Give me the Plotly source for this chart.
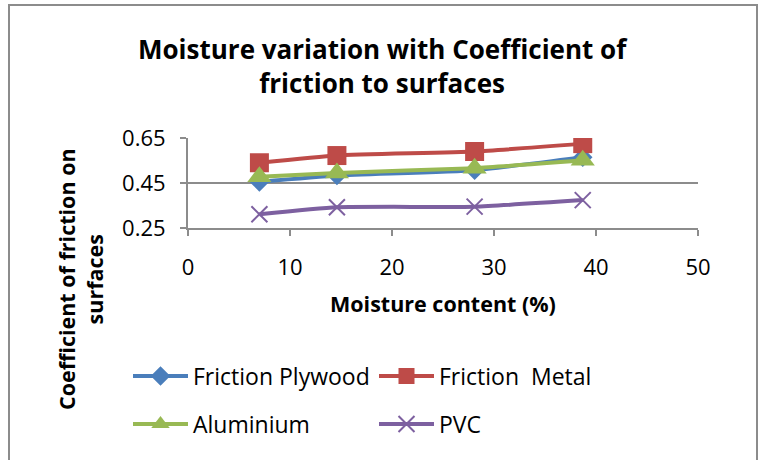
import plotly.graph_objects as go

# Moisture content (%) at which friction was measured
moisture = [7.0, 14.6, 28.1, 38.7]

# Coefficient of friction on each surface
plywood = [0.455, 0.483, 0.507, 0.565]
metal = [0.540, 0.572, 0.590, 0.625]
aluminium = [0.478, 0.495, 0.516, 0.551]
pvc = [0.311, 0.342, 0.345, 0.374]

x_ticks = [0, 10, 20, 30, 40, 50]
y_ticks = [0.25, 0.45, 0.65]

FONT = "Open Sans"

# plot-area geometry in pixels (used to place the frame and labels)
W, H = 767, 460
L, R, T, B = 188, 69, 138, 232
PW, PH = W - L - R, H - T - B


def px_x(px):
    return (px - L) / PW


def px_y(py):
    return (H - B - py) / PH


series = [
    ("Friction Plywood", plywood, "#4A7EBB", dict(symbol="diamond", size=15), "legend"),
    ("Friction  Metal", metal, "#BE4B48", dict(symbol="square", size=19), "legend"),
    ("Aluminium", aluminium, "#98B954", dict(symbol="triangle-up", size=21), "legend2"),
    ("PVC", pvc, "#7D60A0", dict(symbol="x-thin", size=16, line=dict(width=2, color="#7D60A0")), "legend2"),
]

fig = go.Figure()
for name, vals, color, marker, leg in series:
    fig.add_trace(go.Scatter(
        x=moisture, y=vals, name=name, mode="lines+markers",
        line=dict(color=color, width=4, shape="spline", smoothing=0.5),
        marker=dict(color=color, **marker),
        legend=leg,
    ))

legend_common = dict(
    orientation="h", xanchor="left", yanchor="middle",
    xref="container", yref="container",
    font=dict(family=FONT, size=23, color="#000000"),
    entrywidth=176, entrywidthmode="pixels", itemwidth=55,
    bgcolor="rgba(0,0,0,0)", itemsizing="trace",
)

fig.update_layout(
    width=W, height=H,
    margin=dict(l=L, r=R, t=T, b=B),
    paper_bgcolor="white", plot_bgcolor="white",
    font=dict(family=FONT, size=22, color="#000000"),
    showlegend=True,
    legend=dict(x=128 / W, y=1 - 376 / H, **legend_common),
    legend2=dict(x=128 / W, y=1 - 424 / H, **legend_common),
    xaxis=dict(
        range=[0, 50], tickvals=x_ticks, ticktext=[str(v) for v in x_ticks],
        showgrid=False, zeroline=False,
        showline=True, linecolor="#8C8C8C", linewidth=2,
        ticks="outside", ticklen=6, tickwidth=2, tickcolor="#8C8C8C",
        ticklabelstandoff=13,
        tickfont=dict(family=FONT, size=22), fixedrange=True,
    ),
    yaxis=dict(
        range=[0.25, 0.65], tickvals=y_ticks, ticktext=["0.25", "0.45", "0.65"],
        showgrid=True, gridcolor="#8C8C8C", gridwidth=2, zeroline=False,
        showline=True, linecolor="#8C8C8C", linewidth=2,
        ticks="outside", ticklen=6, tickwidth=2, tickcolor="#8C8C8C",
        ticklabelstandoff=10,
        tickfont=dict(family=FONT, size=22), fixedrange=True,
    ),
    shapes=[
        # chart frame
        dict(type="rect", xref="paper", yref="paper",
             x0=px_x(9), x1=px_x(757), y0=px_y(470), y1=px_y(5),
             line=dict(color="#8C8C8C", width=2), layer="below"),
    ],
    annotations=[
        dict(text="<b>Moisture variation with Coefficient of<br>friction to surfaces</b>",
             xref="paper", yref="paper", x=px_x(383), y=px_y(66),
             xanchor="center", yanchor="middle", showarrow=False,
             font=dict(family=FONT, size=26, color="#000000")),
        dict(text="<b>Moisture content (%)</b>",
             xref="paper", yref="paper", x=px_x(443), y=px_y(303),
             xanchor="center", yanchor="middle", showarrow=False,
             font=dict(family=FONT, size=21.5, color="#000000")),
        dict(text="<b>Coefficient of friction on<br>surfaces</b>",
             xref="paper", yref="paper", x=px_x(80), y=px_y(279),
             xanchor="center", yanchor="middle", showarrow=False, textangle=-90,
             font=dict(family=FONT, size=21.5, color="#000000")),
        dict(text="(ii)",
             xref="paper", yref="paper", x=px_x(345), y=px_y(2),
             xanchor="center", yanchor="bottom", showarrow=False,
             font=dict(family=FONT, size=14, color="#555555")),
    ],
)

fig.write_html("out.html")
